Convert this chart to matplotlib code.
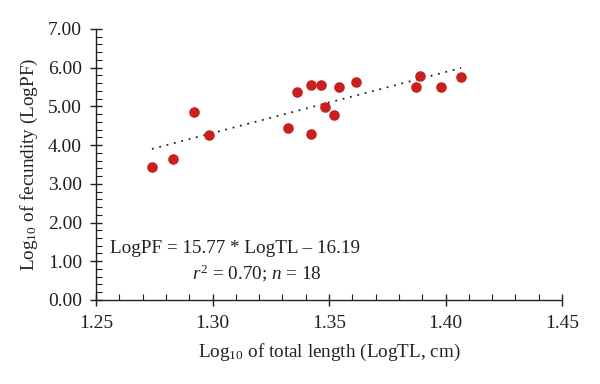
import numpy as np
import matplotlib.pyplot as plt
from matplotlib.ticker import MultipleLocator, FormatStrFormatter

# log10 total length and log10 fecundity
log_tl = [1.2740, 1.2832, 1.2922, 1.2986, 1.3325, 1.3364, 1.3423, 1.3464, 1.3423,
          1.3484, 1.3521, 1.3542, 1.3617, 1.3873, 1.3892, 1.3981, 1.4067]
log_pf = [3.43, 3.64, 4.86, 4.25, 4.45, 5.37, 5.54, 5.54, 4.29,
          4.99, 4.77, 5.51, 5.64, 5.51, 5.79, 5.49, 5.77]

slope = 15.77
intercept = -16.19

plt.rcParams['font.family'] = ['Liberation Serif', 'DejaVu Serif']
plt.rcParams['mathtext.fontset'] = 'custom'
plt.rcParams['mathtext.rm'] = 'Liberation Serif'
plt.rcParams['mathtext.it'] = 'Liberation Serif:italic'
plt.rcParams['mathtext.bf'] = 'Liberation Serif:bold'

ink = '#231f20'

fig = plt.figure(figsize=(6, 3.84), dpi=100)
ax = fig.add_axes([0.16, 0.219, 0.7767, 0.7055])

ax.scatter(log_tl, log_pf, s=58, color='#c8201f', zorder=3, linewidths=0)

# trend line
xt = np.array([min(log_tl), max(log_tl)])
ax.plot(xt, slope * xt + intercept, color='#222222', linestyle=(0, (1, 3.2)),
        linewidth=1.3, zorder=2)

ax.text(1.2562, 1.34, 'LogPF = 15.77 * LogTL \u2013 16.19', fontsize=13.8,
        va='center', ha='left', color=ink)
ax.text(1.2914, 0.70, '$r^2$ = 0.70; $n$ = 18', fontsize=13.8,
        va='center', ha='left', color=ink)

ax.set_xlim(1.25, 1.45)
ax.set_ylim(0, 7)
ax.xaxis.set_major_locator(MultipleLocator(0.05))
ax.xaxis.set_minor_locator(MultipleLocator(0.01))
ax.yaxis.set_major_locator(MultipleLocator(1))
ax.yaxis.set_minor_locator(MultipleLocator(0.2))
ax.xaxis.set_major_formatter(FormatStrFormatter('%.2f'))
ax.yaxis.set_major_formatter(FormatStrFormatter('%.2f'))

for s in ['top', 'right']:
    ax.spines[s].set_visible(False)
for s in ['left', 'bottom']:
    ax.spines[s].set_color(ink)
    ax.spines[s].set_linewidth(1.0)

ax.tick_params(which='major', direction='inout', length=8, width=1,
               labelsize=14, colors=ink)
ax.tick_params(axis='y', which='major', pad=6)
ax.tick_params(axis='x', which='major', pad=7)
ax.tick_params(which='minor', direction='in', length=4, width=0.8, colors=ink)

ax.set_xlabel('Log$_{10}$ of total length (LogTL, cm)', fontsize=13.8, color=ink,
              labelpad=7)
ax.set_ylabel('Log$_{10}$ of fecundity (LogPF)', fontsize=13.8, color=ink,
              labelpad=6)

fig.savefig('out.png', dpi=100)
